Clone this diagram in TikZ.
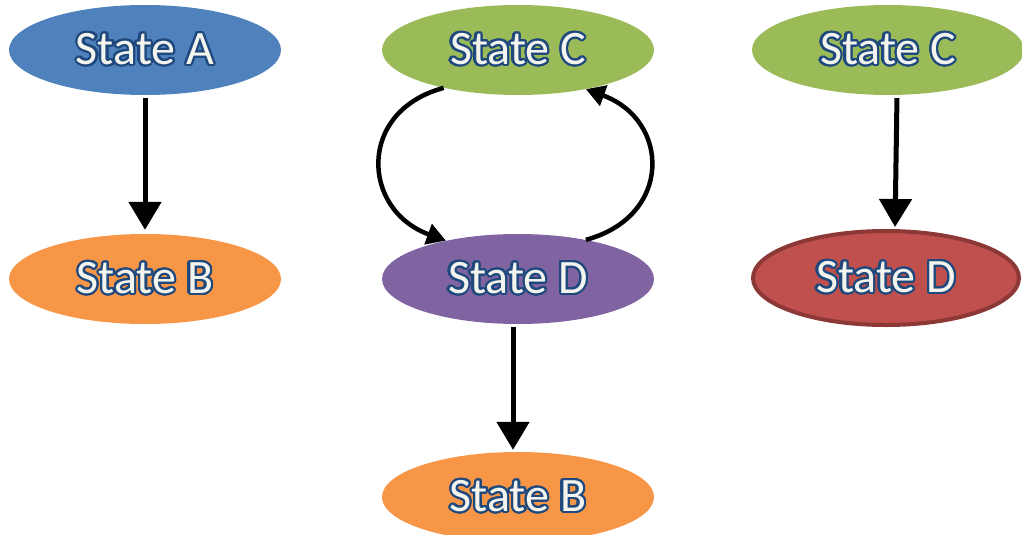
\documentclass[tikz,border=0pt]{standalone}
\usepackage{fontspec}
\setmainfont{Carlito}
\usepackage{contour}
\contourlength{2.2pt}
\contournumber{24}
\usetikzlibrary{shapes.geometric,arrows.meta}

\definecolor{stblue}{HTML}{4F81BD}
\definecolor{storange}{HTML}{F79646}
\definecolor{stgreen}{HTML}{9BBB59}
\definecolor{stpurple}{HTML}{8064A2}
\definecolor{stred}{HTML}{C0504D}
\definecolor{stredline}{HTML}{8C3836}
\definecolor{outblue}{HTML}{1F497D}
\definecolor{txtwhite}{HTML}{F4F4EE}

\tikzset{
  state/.style={ellipse, minimum width=272pt, minimum height=90pt, inner sep=0pt,
    text=txtwhite, font=\fontsize{48}{48}\selectfont},
  link/.style={line width=5pt, -{Triangle[length=28pt,width=32pt]}},
  looplink/.style={line width=4.5pt, -{Triangle[length=19pt,width=21pt]}}
}

\begin{document}
\begin{tikzpicture}[x=1pt,y=1pt]
\useasboundingbox (0,0) rectangle (1022,-535);

\node [state, fill=stblue] (A) at (145,-50) {\contour{outblue}{State A}};
\node [state, fill=storange] (B1) at (145,-279) {\contour{outblue}{State B}};

\node [state, fill=stgreen] (C2) at (518,-50) {\contour{outblue}{State C}};
\node [state, fill=stpurple] (D2) at (518,-279) {\contour{outblue}{State D}};
\node [state, fill=storange] (B2) at (518,-497) {\contour{outblue}{State B}};

\node [state, fill=stgreen] (C3) at (888,-50) {\contour{outblue}{State C}};
\node [state, fill=stred, draw=stredline, line width=4pt, minimum width=266pt, minimum height=94pt] (D3) at (886,-278) {\contour{outblue}{State D}};

\draw [link, shorten <=3pt, shorten >=4pt] (A) -- (B1);
\draw [link, shorten <=3pt, shorten >=2pt] ([xshift=-5pt]D2.south) -- ([xshift=-5pt]B2.north);
\draw [link, shorten <=3pt, shorten >=2pt] ([xshift=9pt]C3.south) -- ([xshift=9pt]D3.north);

\draw [looplink] (C2.207) .. controls +(195:90) and +(160:90) .. (D2.152);
\draw [looplink] (D2.30) .. controls +(15:90) and +(-20:90) .. (C2.330);
\end{tikzpicture}
\end{document}
